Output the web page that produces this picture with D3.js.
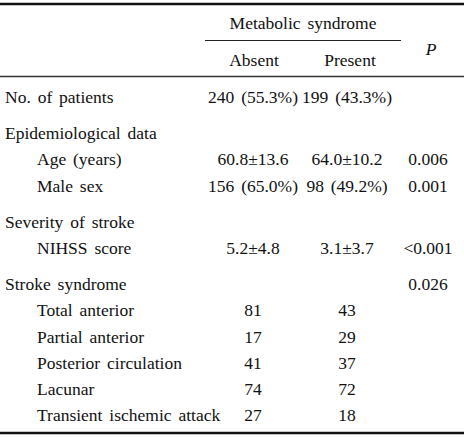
<!DOCTYPE html>
<html><head><meta charset="utf-8">
<script src="https://cdn.jsdelivr.net/npm/d3@7"></script>
<style>
html,body{margin:0;padding:0;background:#fff;}
svg{display:block;}
</style></head><body>
<svg id="chart" width="464" height="442"></svg>
<script>
const groupHeader = "Metabolic syndrome";
const columnHeaders = ["Absent", "Present"];
const pHeader = "P";
const rowLabels = ["No. of patients","Epidemiological data","Age (years)","Male sex","Severity of stroke","NIHSS score","Stroke syndrome","Total anterior","Partial anterior","Posterior circulation","Lacunar","Transient ischemic attack"];
const rowLevels = [0,0,1,1,0,1,0,1,1,1,1,1];
const absentValues = ["240 (55.3%)","","60.8±13.6","156 (65.0%)","","5.2±4.8","","81","17","41","74","27"];
const presentValues = ["199 (43.3%)","","64.0±10.2","98 (49.2%)","","3.1±3.7","","43","29","37","72","18"];
const pValues = ["","","0.006","0.001","","<0.001","0.026","","","","",""];

const W = 464, H = 442;
const FONT = "Liberation Serif";
const svg = d3.select("#chart");

function txt(sel) {
  return sel.attr("font-family", FONT).attr("font-size", 17.5).attr("fill", "#111").style("word-spacing", "2.5px");
}

const colX = d3.scaleOrdinal().domain(["Absent","Present","P"]).range([253, 347, 428]);
const headX = d3.scaleOrdinal().domain(["Absent","Present"]).range([254, 350]);
const rowY = d3.scaleLinear().domain([0, 1]).range([103, 129.2]);
const sectionGap = 10;
const indentX = d3.scaleOrdinal().domain([0,1]).range([5, 37]);

let sec = -1;
const rows = rowLabels.map((label, i) => {
  if (rowLevels[i] === 0) sec++;
  return {label, level: rowLevels[i], absent: absentValues[i], present: presentValues[i], p: pValues[i], y: rowY(i) + sec * sectionGap};
});

// rules
svg.append("line").attr("x1",0).attr("x2",W).attr("y1",4).attr("y2",4).attr("stroke","#111").attr("stroke-width",2.6);
svg.append("line").attr("x1",205).attr("x2",401).attr("y1",40.5).attr("y2",40.5).attr("stroke","#222").attr("stroke-width",1.2);
svg.append("line").attr("x1",0).attr("x2",W).attr("y1",76.5).attr("y2",76.5).attr("stroke","#333").attr("stroke-width",1.3);
svg.append("line").attr("x1",0).attr("x2",W).attr("y1",433).attr("y2",433).attr("stroke","#111").attr("stroke-width",2.6);

// headers
txt(svg.append("text")).attr("x", 303).attr("y", 29).attr("text-anchor","middle").text(groupHeader);
txt(svg.selectAll("text.colh").data(columnHeaders).join("text").attr("class","colh"))
  .attr("x", d => headX(d)).attr("y", 66).attr("text-anchor","middle").text(d => d);
txt(svg.append("text")).attr("x", 431).attr("y", 55).attr("text-anchor","middle").attr("font-style","italic").text(pHeader);

// rows
const g = svg.selectAll("g.row").data(rows).join("g").attr("class","row").attr("transform", d => `translate(0,${d.y})`);
txt(g.append("text")).attr("x", d => indentX(d.level)).text(d => d.label);
txt(g.append("text")).attr("x", colX("Absent")).attr("text-anchor","middle").text(d => d.absent);
txt(g.append("text")).attr("x", colX("Present")).attr("text-anchor","middle").text(d => d.present);
txt(g.append("text")).attr("x", colX("P")).attr("text-anchor","middle").text(d => d.p);
</script></body></html>
